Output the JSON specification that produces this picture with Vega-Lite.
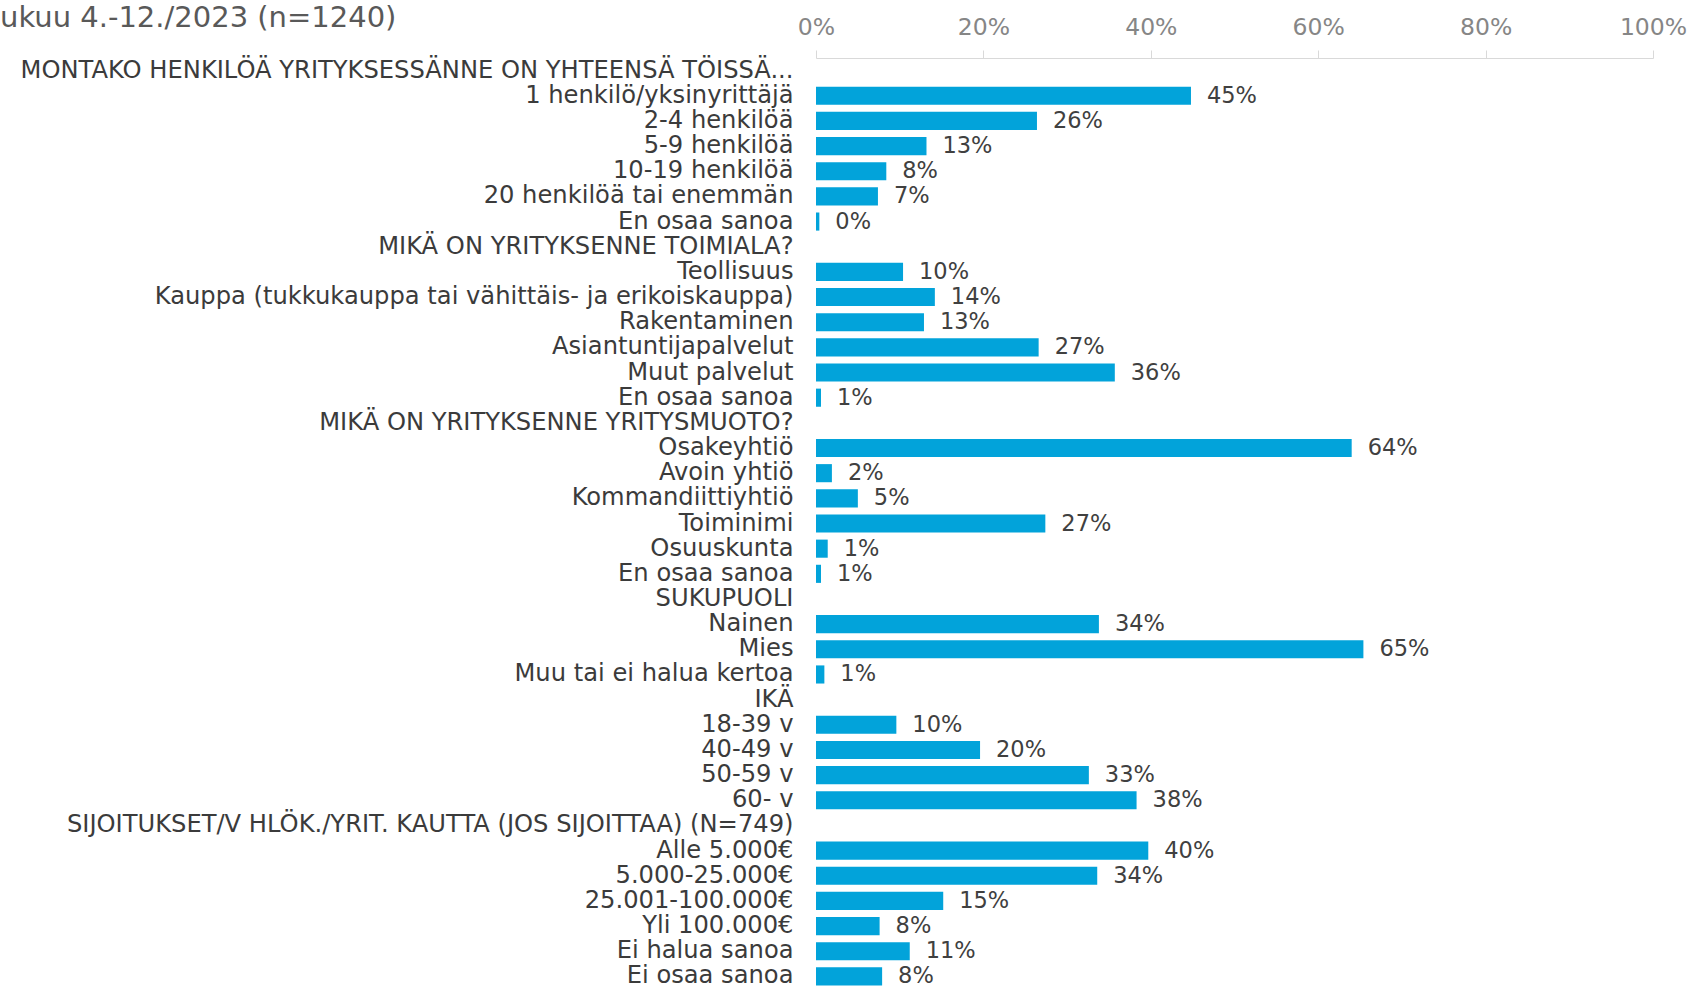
{
  "$schema": "https://vega.github.io/schema/vega-lite/v6.json",
  "width": 837,
  "height": 931,
  "autosize": {"type": "none"},
  "padding": {"left": 816, "top": 58, "right": 40, "bottom": 0},
  "background": "white",
  "title": {
    "text": "ukuu 4.-12./2023 (n=1240)",
    "anchor": "start",
    "frame": "group",
    "dx": -816,
    "dy": 18,
    "offset": 0,
    "font": "DejaVu Sans",
    "fontSize": 29,
    "fontWeight": "normal",
    "color": "#595959"
  },
  "data": {
    "values": [
      {"cat": "MONTAKO HENKILÖÄ YRITYKSESSÄNNE ON YHTEENSÄ TÖISSÄ...", "value": null, "label": null},
      {"cat": "1 henkilö/yksinyrittäjä", "value": 44.8, "label": "45%"},
      {"cat": "2-4 henkilöä", "value": 26.4, "label": "26%"},
      {"cat": "5-9 henkilöä", "value": 13.2, "label": "13%"},
      {"cat": "10-19 henkilöä", "value": 8.4, "label": "8%"},
      {"cat": "20 henkilöä tai enemmän", "value": 7.4, "label": "7%"},
      {"cat": "En osaa sanoa", "value": 0.4, "label": "0%"},
      {"cat": "MIKÄ ON YRITYKSENNE TOIMIALA?", "value": null, "label": null},
      {"cat": "Teollisuus", "value": 10.4, "label": "10%"},
      {"cat": "Kauppa (tukkukauppa tai vähittäis- ja erikoiskauppa)", "value": 14.2, "label": "14%"},
      {"cat": "Rakentaminen", "value": 12.9, "label": "13%"},
      {"cat": "Asiantuntijapalvelut", "value": 26.6, "label": "27%"},
      {"cat": "Muut palvelut", "value": 35.7, "label": "36%"},
      {"cat": "En osaa sanoa\u200b", "value": 0.6, "label": "1%"},
      {"cat": "MIKÄ ON YRITYKSENNE YRITYSMUOTO?", "value": null, "label": null},
      {"cat": "Osakeyhtiö", "value": 64.0, "label": "64%"},
      {"cat": "Avoin yhtiö", "value": 1.9, "label": "2%"},
      {"cat": "Kommandiittiyhtiö", "value": 5.0, "label": "5%"},
      {"cat": "Toiminimi", "value": 27.4, "label": "27%"},
      {"cat": "Osuuskunta", "value": 1.4, "label": "1%"},
      {"cat": "En osaa sanoa\u200b\u200b", "value": 0.6, "label": "1%"},
      {"cat": "SUKUPUOLI", "value": null, "label": null},
      {"cat": "Nainen", "value": 33.8, "label": "34%"},
      {"cat": "Mies", "value": 65.4, "label": "65%"},
      {"cat": "Muu tai ei halua kertoa", "value": 1.0, "label": "1%"},
      {"cat": "IKÄ", "value": null, "label": null},
      {"cat": "18-39 v", "value": 9.6, "label": "10%"},
      {"cat": "40-49 v", "value": 19.6, "label": "20%"},
      {"cat": "50-59 v", "value": 32.6, "label": "33%"},
      {"cat": "60- v", "value": 38.3, "label": "38%"},
      {"cat": "SIJOITUKSET/V HLÖK./YRIT. KAUTTA (JOS SIJOITTAA) (N=749)", "value": null, "label": null},
      {"cat": "Alle 5.000€", "value": 39.7, "label": "40%"},
      {"cat": "5.000-25.000€", "value": 33.6, "label": "34%"},
      {"cat": "25.001-100.000€", "value": 15.2, "label": "15%"},
      {"cat": "Yli 100.000€\u00a0", "value": 7.6, "label": "8%"},
      {"cat": "Ei halua sanoa", "value": 11.2, "label": "11%"},
      {"cat": "Ei osaa sanoa", "value": 7.9, "label": "8%"}
    ]
  },
  "encoding": {
    "y": {
      "field": "cat",
      "type": "nominal",
      "sort": null,
      "scale": {
        "paddingInner": 0.28,
        "paddingOuter": 0.14,
        "domain": [
          "MONTAKO HENKILÖÄ YRITYKSESSÄNNE ON YHTEENSÄ TÖISSÄ...",
          "1 henkilö/yksinyrittäjä",
          "2-4 henkilöä",
          "5-9 henkilöä",
          "10-19 henkilöä",
          "20 henkilöä tai enemmän",
          "En osaa sanoa",
          "MIKÄ ON YRITYKSENNE TOIMIALA?",
          "Teollisuus",
          "Kauppa (tukkukauppa tai vähittäis- ja erikoiskauppa)",
          "Rakentaminen",
          "Asiantuntijapalvelut",
          "Muut palvelut",
          "En osaa sanoa\u200b",
          "MIKÄ ON YRITYKSENNE YRITYSMUOTO?",
          "Osakeyhtiö",
          "Avoin yhtiö",
          "Kommandiittiyhtiö",
          "Toiminimi",
          "Osuuskunta",
          "En osaa sanoa\u200b\u200b",
          "SUKUPUOLI",
          "Nainen",
          "Mies",
          "Muu tai ei halua kertoa",
          "IKÄ",
          "18-39 v",
          "40-49 v",
          "50-59 v",
          "60- v",
          "SIJOITUKSET/V HLÖK./YRIT. KAUTTA (JOS SIJOITTAA) (N=749)",
          "Alle 5.000€",
          "5.000-25.000€",
          "25.001-100.000€",
          "Yli 100.000€\u00a0",
          "Ei halua sanoa",
          "Ei osaa sanoa"
        ]
      },
      "axis": {
        "title": null,
        "ticks": false,
        "domain": false,
        "labelPadding": 23,
        "labelFont": "DejaVu Sans",
        "labelFontSize": 24.2,
        "labelColor": "#3b3b3b",
        "labelLimit": 1000
      }
    }
  },
  "layer": [
    {
      "mark": {"type": "bar", "color": "#02a3da"},
      "encoding": {
        "x": {
          "field": "value",
          "type": "quantitative",
          "scale": {"domain": [0, 100]},
          "axis": {
            "orient": "top",
            "values": [0, 20, 40, 60, 80, 100],
            "labelExpr": "datum.value + '%'",
            "title": null,
            "grid": false,
            "domainColor": "#d9d9d9",
            "tickColor": "#d9d9d9",
            "tickSize": 8,
            "labelPadding": 11,
            "labelFont": "DejaVu Sans",
            "labelFontSize": 23.5,
            "labelColor": "#868686",
            "labelFlush": false
          }
        }
      }
    },
    {
      "mark": {"type": "text", "align": "left", "dx": 16, "baseline": "middle", "font": "DejaVu Sans", "fontSize": 22.5, "color": "#404040"},
      "encoding": {
        "x": {"field": "value", "type": "quantitative"},
        "text": {"field": "label"}
      }
    }
  ],
  "config": {"view": {"stroke": null}}
}
